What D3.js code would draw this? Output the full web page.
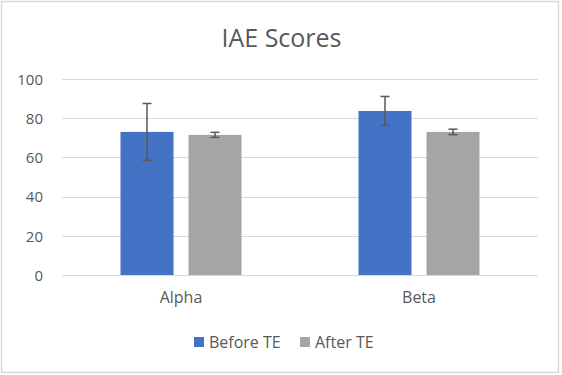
<!DOCTYPE html>
<html><head><meta charset="utf-8">
<script src="https://cdn.jsdelivr.net/npm/d3@7"></script>
<style>body{margin:0;background:#fff}svg{display:block}text{font-family:"Open Sans",Calibri,sans-serif;fill:#595959}</style>
</head><body>
<script>
const categories = ["Alpha", "Beta"];
const seriesNames = ["Before TE", "After TE"];
const beforeValues = [73, 83.7];
const afterValues = [71.5, 73];
const beforeErrors = [14.5, 7.4];
const afterErrors = [1.3, 1.4];
const yTicks = [0, 20, 40, 60, 80, 100];
const colors = ["#4472C4", "#A5A5A5"];

const W = 562, H = 375;
const svg = d3.select("body").append("svg").attr("width", W).attr("height", H);
svg.append("rect").attr("x", 1.5).attr("y", 1.5).attr("width", 557).attr("height", 371)
  .attr("fill", "#fff").attr("stroke", "#d9d9d9").attr("stroke-width", 1.5);

const plot = {left: 62, right: 538, top: 79, bottom: 275};
const x = d3.scaleBand().domain(categories).range([plot.left, plot.right]);
const y = d3.scaleLinear().domain([0, 100]).range([plot.bottom, plot.top]);
const innerOff = (x.bandwidth() - 121) / 2;

svg.append("text").attr("x", W/2 + 0.5).attr("y", 46.5).attr("text-anchor", "middle")
  .style("font-size", "25px").text("IAE Scores");

// grid
svg.append("g").selectAll("line").data(yTicks).join("line")
  .attr("x1", plot.left).attr("x2", plot.right)
  .attr("y1", d => Math.round(y(d)) + 0.5).attr("y2", d => Math.round(y(d)) + 0.5)
  .attr("stroke", "#d9d9d9").attr("stroke-width", 1);

const yAxis = d3.axisLeft(y).tickValues(yTicks).tickSize(0).tickPadding(0);
const ya = svg.append("g").attr("transform", `translate(43,0)`).call(yAxis);
ya.select(".domain").remove();
ya.selectAll("text").style("font-size", "15px").attr("fill", "#595959").attr("dy", "0.35em").attr("x", 0);

const xAxis = d3.axisBottom(x).tickSize(0).tickPadding(0);
const xa = svg.append("g").attr("transform", `translate(0,292)`).call(xAxis);
xa.select(".domain").remove();
xa.selectAll("text").style("font-size", "16px").attr("fill", "#595959").attr("dy", "0.71em");

const data = [];
categories.forEach((c, i) => {
  data.push({cat: c, s: seriesNames[0], v: beforeValues[i], e: beforeErrors[i], col: colors[0]});
  data.push({cat: c, s: seriesNames[1], v: afterValues[i], e: afterErrors[i], col: colors[1]});
});
const bw = 53;
const bx = d => x(d.cat) + innerOff + (d.s === seriesNames[0] ? 0 : bw + 15);

svg.append("g").selectAll("rect").data(data).join("rect")
  .attr("x", bx).attr("width", bw)
  .attr("y", d => y(d.v)).attr("height", d => y(0) - y(d.v)).attr("fill", d => d.col);

const eg = svg.append("g").attr("stroke", "#595959").attr("stroke-width", 1.5);
data.forEach(d => {
  const cx = bx(d) + bw/2;
  eg.append("line").attr("x1", cx).attr("x2", cx).attr("y1", y(d.v + d.e)).attr("y2", y(d.v - d.e));
  [d.v + d.e, d.v - d.e].forEach(v => eg.append("line").attr("x1", cx - 4.5).attr("x2", cx + 4.5).attr("y1", y(v)).attr("y2", y(v)));
});

// legend
const lg = svg.append("g");
const legX = [194, 300];
seriesNames.forEach((n, i) => {
  lg.append("rect").attr("x", legX[i]).attr("y", 337).attr("width", 10).attr("height", 10).attr("fill", colors[i]);
  lg.append("text").attr("x", legX[i] + 15).attr("y", 348).style("font-size", "16px").text(n);
});
</script>
</body></html>
